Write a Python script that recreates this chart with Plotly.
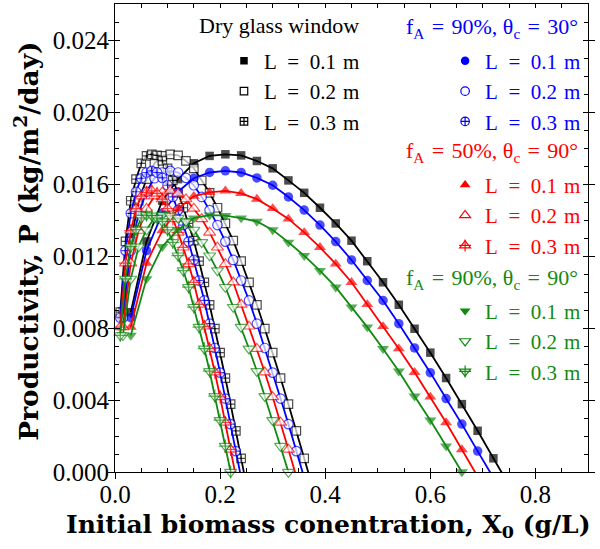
import plotly.graph_objects as go

# ---------------- data ----------------
X_L01 = [0.03, 0.06, 0.09, 0.12, 0.15, 0.18, 0.21, 0.24, 0.27, 0.30, 0.33, 0.36, 0.39,
         0.42, 0.45, 0.48, 0.51, 0.54, 0.57, 0.60, 0.63, 0.66, 0.69, 0.72, 0.75]
X_L02 = [0.015, 0.03, 0.045, 0.06, 0.075, 0.09, 0.105, 0.12, 0.135, 0.15, 0.165, 0.18, 0.195,
         0.21, 0.225, 0.24, 0.255, 0.27, 0.285, 0.30, 0.315, 0.33, 0.345, 0.36, 0.375]
X_L03 = [0.01, 0.02, 0.03, 0.04, 0.05, 0.06, 0.07, 0.08, 0.09, 0.10, 0.11, 0.12, 0.13,
         0.14, 0.15, 0.16, 0.17, 0.18, 0.19, 0.20, 0.21, 0.22, 0.23, 0.24, 0.25]

P_dry = [0.00888, 0.01281, 0.01507, 0.01627, 0.01715, 0.01756, 0.01765, 0.01759, 0.01728,
         0.01687, 0.01620, 0.01551, 0.01468, 0.01381, 0.01285, 0.01171, 0.01054, 0.00929,
         0.00796, 0.00663, 0.00522, 0.00377, 0.00229, 0.00076, -0.00074]
P_90_30 = [0.00857, 0.01230, 0.01437, 0.01557, 0.01632, 0.01664, 0.01673, 0.01664, 0.01634,
           0.01593, 0.01528, 0.01455, 0.01372, 0.01280, 0.01178, 0.01064, 0.00953, 0.00824,
           0.00689, 0.00552, 0.00408, 0.00266, 0.00116, -0.00032]
P_50_90 = [0.00805, 0.01160, 0.01341, 0.01463, 0.01532, 0.01554, 0.01562, 0.01548, 0.01516,
           0.01464, 0.01406, 0.01331, 0.01248, 0.01156, 0.01054, 0.00931, 0.00809, 0.00685,
           0.00554, 0.00417, 0.00275, 0.00125, -0.00025]
P_90_90 = [0.00759, 0.01073, 0.01252, 0.01346, 0.01411, 0.01427, 0.01424, 0.01411, 0.01392,
           0.01345, 0.01276, 0.01202, 0.01119, 0.01027, 0.00916, 0.00805, 0.00685, 0.00560,
           0.00421, 0.00288, 0.00144, 0.00000]

L_labels = ["L\u2002=\u20020.1\u2004m", "L\u2002=\u20020.2\u2004m", "L\u2002=\u20020.3\u2004m"]
group_titles = ["Dry glass window",
                "f<sub>A</sub>\u2004=\u200490%, \u03b8<sub>c</sub>\u2004=\u200430\u00b0",
                "f<sub>A</sub>\u2004=\u200450%, \u03b8<sub>c</sub>\u2004=\u200490\u00b0",
                "f<sub>A</sub>\u2004=\u200490%, \u03b8<sub>c</sub>\u2004=\u200490\u00b0"]
x_title = "<b>Initial biomass conentration, X<sub>0</sub> (g/L)</b>"
y_title = "<b>Productivity, P (kg/m<sup>2</sup>/day)</b>"

# ---------------- styles ----------------
GREEN = "#128a12"
groups = [
    dict(P=P_dry, color="black", sym="square", size=8.5, legend="legend"),
    dict(P=P_90_30, color="blue", sym="circle", size=9.5, legend="legend2"),
    dict(P=P_50_90, color="red", sym="triangle-up", size=10.5, legend="legend3", xleg="legend5"),
    dict(P=P_90_90, color=GREEN, sym="triangle-down", size=10.5, legend="legend4", xleg="legend6"),
]
XS = [X_L01, X_L02, X_L03]
FONT = "Liberation Serif"
TFONT = "DejaVu Serif"

fig = go.Figure()

for gi, g in enumerate(groups):
    P = g["P"]
    n = len(P)
    col = g["color"]
    for li, X in enumerate(XS):
        x = X[:n]
        sizes = [g["size"] if p >= 0 else 0 for p in P]
        if li == 0:
            mk = dict(symbol=g["sym"], color=col, size=sizes, line=dict(width=0))
        elif li == 1:
            mk = dict(symbol=g["sym"], color="white", size=sizes, line=dict(color=col, width=1.2))
        else:
            if g["sym"] in ("square", "circle"):
                mk = dict(symbol=g["sym"] + "-cross", color="white", size=sizes,
                          line=dict(color=col, width=1.2))
            else:
                mk = dict(symbol=g["sym"], color="white", size=sizes, line=dict(color=col, width=1.2))
        fig.add_trace(go.Scatter(x=x, y=P, mode="lines+markers", line=dict(color=col, width=1.8),
                                 marker=mk, showlegend=False, cliponaxis=False))
        cross = dict(symbol="cross-thin-open", color=col, line=dict(color=col, width=1.2))
        if li == 2 and g["sym"].startswith("triangle"):
            fig.add_trace(go.Scatter(x=x, y=P, mode="markers", showlegend=False, cliponaxis=False,
                                     marker=dict(cross, size=[s * 0.9 for s in sizes])))
        # legend entry
        lm = dict(mk)
        lm["size"] = g["size"] - 1
        fig.add_trace(go.Scatter(x=[None], y=[None], mode="markers", marker=lm,
                                 name=L_labels[li], legend=g["legend"],
                                 legendgroup=f"g{gi}{li}", showlegend=True))
        # overlay legend (transparent text) adding the "+" to the crossed triangles
        if "xleg" in g:
            om = dict(cross, size=g["size"] - 2) if li == 2 else dict(symbol="circle", size=1,
                                                                   color="rgba(0,0,0,0)")
            fig.add_trace(go.Scatter(x=[None], y=[None], mode="markers", marker=om,
                                     name=L_labels[li], legend=g["xleg"],
                                     legendgroup=f"h{gi}{li}", showlegend=True))

# invisible trace for overlay axes (outside tick marks)
fig.add_trace(go.Scatter(x=[None], y=[None], xaxis="x2", yaxis="y2", showlegend=False,
                         hoverinfo="skip"))

axis_common = dict(showgrid=False, zeroline=False, linecolor="black", linewidth=1.2,
                   tickcolor="black", tickfont=dict(family=FONT, size=25, color="black"))

fig.update_layout(
    width=600, height=549,
    margin=dict(l=115, r=12, t=4, b=77),
    paper_bgcolor="white", plot_bgcolor="white",
    xaxis=dict(range=[0, 0.9], dtick=0.2, tick0=0, tickformat=".1f", ticks="inside", ticklen=4,
               showline=True, mirror="ticks",
               minor=dict(dtick=0.05, ticks="inside", ticklen=4, tickcolor="black"),
               **axis_common),
    yaxis=dict(range=[0, 0.026], dtick=0.004, tick0=0, tickformat=".3f", ticks="inside", ticklen=5,
               showline=True, mirror="ticks",
               minor=dict(dtick=0.001, ticks="inside", ticklen=4, tickcolor="black"),
               **axis_common),
    xaxis2=dict(range=[0, 0.9], dtick=0.2, tick0=0, overlaying="x", side="bottom", ticks="outside",
                ticklen=6, showticklabels=False, showgrid=False, zeroline=False, tickcolor="black",
                showline=False),
    yaxis2=dict(range=[0, 0.026], dtick=0.004, tick0=0, overlaying="y", side="left", ticks="outside",
                ticklen=6, showticklabels=False, showgrid=False, zeroline=False, tickcolor="black",
                showline=False, mirror="ticks"),
    font=dict(family=FONT, color="black"),
)

legend_common = dict(bgcolor="rgba(0,0,0,0)", borderwidth=0, traceorder="grouped",
                     tracegroupgap=0, yanchor="top", xanchor="right", itemclick=False,
                     itemdoubleclick=False)
XR = 0.996
fig.update_layout(
    legend=dict(x=0.5285, y=0.9216, font=dict(family=FONT, size=21, color="black"), **legend_common),
    legend2=dict(x=XR, y=0.9216, font=dict(family=FONT, size=21, color="blue"), **legend_common),
    legend3=dict(x=XR, y=0.6566, font=dict(family=FONT, size=21, color="red"), **legend_common),
    legend4=dict(x=XR, y=0.3874, font=dict(family=FONT, size=21, color=GREEN), **legend_common),
    legend5=dict(x=XR, y=0.6566, font=dict(family=FONT, size=21, color="rgba(0,0,0,0)"),
                 **legend_common),
    legend6=dict(x=XR, y=0.3874, font=dict(family=FONT, size=21, color="rgba(0,0,0,0)"),
                 **legend_common),
)

# group headers
hdr = [(0.521, 0.953, "black"), (0.983, 0.948, "blue"),
       (0.983, 0.684, "red"), (0.983, 0.412, GREEN)]
for (hx, hy, col), t in zip(hdr, group_titles):
    fig.add_annotation(x=hx, y=hy, xref="paper", yref="paper", xanchor="right", yanchor="middle",
                       text=t, showarrow=False, font=dict(family=FONT, size=22, color=col))

# axis titles
fig.add_annotation(x=0.452, y=-0.1154, xref="paper", yref="paper", xanchor="center", yanchor="middle",
                   text=x_title, showarrow=False, font=dict(family=TFONT, size=25, color="black"))
fig.add_annotation(x=-0.186, y=0.492, xref="paper", yref="paper", xanchor="center", yanchor="middle",
                   textangle=-90, text=y_title, showarrow=False,
                   font=dict(family=TFONT, size=26.5, color="black"))

fig.write_html("out.html", post_script="document.body.style.margin='0px';",
               config={"displayModeBar": False})
